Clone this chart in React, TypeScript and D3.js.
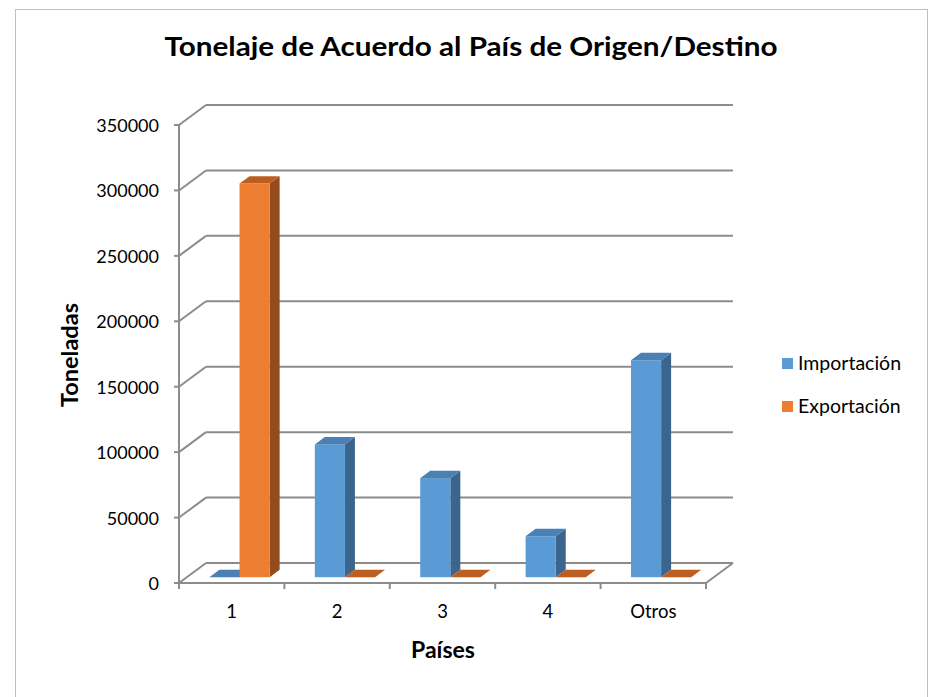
import * as d3 from 'd3';

const categories = ['1', '2', '3', '4', 'Otros'];
const seriesNames = ['Importación', 'Exportación'];
const importacion = [0, 101500, 75700, 31300, 165800];
const exportacion = [300800, 0, 0, 0, 0];
const yTicks = [0, 50000, 100000, 150000, 200000, 250000, 300000, 350000];

const W = 937;
const H = 697;
const FONT = "Lato, 'Open Sans', sans-serif";

// oblique depth of the plot box
const DX = 27;
const DY = -20;
// bars sit between these depth fractions
const Z0 = 0.29;
const Z1 = 0.66;

const colors = {
  front: ['#5B9BD5', '#ED7D31'],
  top: ['#4A80B3', '#BC5E1F'],
  side: ['#3B658C', '#944C1C'],
};

const gridColor = '#8C8C8C';

export default function App() {
  const x = d3.scaleBand<string>().domain(categories).range([179, 706]).paddingInner(0).paddingOuter(0);
  const xs = d3
    .scaleBand<string>()
    .domain(seriesNames)
    .range([0, x.bandwidth()])
    .paddingInner(0)
    .paddingOuter(0.75);
  const y = d3.scaleLinear().domain([0, 350000]).range([583, 125]);

  const values = [importacion, exportacion];
  const y0 = y(0);
  const x0 = x.range()[0];
  const x1 = x.range()[1];

  const bars: JSX.Element[] = [];
  categories.forEach((c, ci) => {
    seriesNames.forEach((s, si) => {
      const v = values[si][ci];
      const left = (x(c) ?? 0) + (xs(s) ?? 0) + DX * Z0;
      const right = left + xs.bandwidth();
      const base = y0 + DY * Z0;
      const top = y(v) + DY * Z0;
      const ddx = DX * (Z1 - Z0);
      const ddy = DY * (Z1 - Z0);
      const topPts = `${left},${top} ${right},${top} ${right + ddx},${top + ddy} ${left + ddx},${top + ddy}`;
      const sidePts = `${right},${top} ${right + ddx},${top + ddy} ${right + ddx},${base + ddy} ${right},${base}`;
      bars.push(
        <g key={`${c}-${s}`}>
          {v > 0 && <polygon points={sidePts} fill={colors.side[si]} />}
          {v > 0 && (
            <rect x={left} y={top} width={right - left} height={base - top} fill={colors.front[si]} />
          )}
          <polygon points={topPts} fill={colors.top[si]} />
        </g>
      );
    });
  });

  return (
    <svg
      width={W}
      height={H}
      style={{ position: 'absolute', left: 0, top: 0, background: '#fff' }}
      fontFamily={FONT}
    >
      <rect x={15.5} y={9.5} width={912} height={700} fill="#fff" stroke="#BFBFBF" strokeWidth={1} />

      <text
        x={471}
        y={56}
        textAnchor="middle"
        fontSize={27}
        fontWeight="bold"
        fill="#000"
        textLength={613}
        lengthAdjust="spacingAndGlyphs"
      >
        Tonelaje de Acuerdo al País de Origen/Destino
      </text>

      {/* walls + gridlines */}
      <g stroke={gridColor} strokeWidth={2} fill="none">
        {yTicks.map((t) => (
          <g key={t}>
            <line x1={x0} y1={y(t)} x2={x0 + DX} y2={y(t) + DY} />
            <line x1={x0 + DX} y1={y(t) + DY} x2={x1 + DX} y2={y(t) + DY} />
            <line x1={x0 - 5} y1={y(t)} x2={x0} y2={y(t)} />
          </g>
        ))}
        <line x1={x0} y1={y(350000)} x2={x0} y2={y0} />
        <line x1={x0} y1={y0} x2={x1} y2={y0} />
        <line x1={x1} y1={y0} x2={x1 + DX} y2={y0 + DY} />
        {[...categories.map((c) => x(c) ?? 0), x1].map((p) => (
          <line key={p} x1={p} y1={y0} x2={p} y2={y0 + 6} />
        ))}
      </g>

      {bars}

      {/* y tick labels */}
      <g fontSize={18} fill="#000" textAnchor="end">
        {yTicks.map((t) => (
          <text key={t} x={159} y={y(t) + 7}>
            {t}
          </text>
        ))}
      </g>

      {/* x tick labels */}
      <g fontSize={18.5} fill="#000" textAnchor="middle">
        {categories.map((c) => (
          <text key={c} x={(x(c) ?? 0) + x.bandwidth() / 2} y={618}>
            {c}
          </text>
        ))}
      </g>

      <text x={443} y={658} textAnchor="middle" fontSize={23} fontWeight="bold">
        Países
      </text>
      <text
        transform={`translate(78,355) rotate(-90)`}
        textAnchor="middle"
        fontSize={23.5}
        fontWeight="bold"
      >
        Toneladas
      </text>

      {/* legend */}
      {seriesNames.map((s, i) => (
        <g key={s} transform={`translate(782,${358 + i * 43})`}>
          <rect width={11} height={11} fill={colors.front[i]} />
          <text x={16} y={12} fontSize={19.5}>
            {s}
          </text>
        </g>
      ))}
    </svg>
  );
}
